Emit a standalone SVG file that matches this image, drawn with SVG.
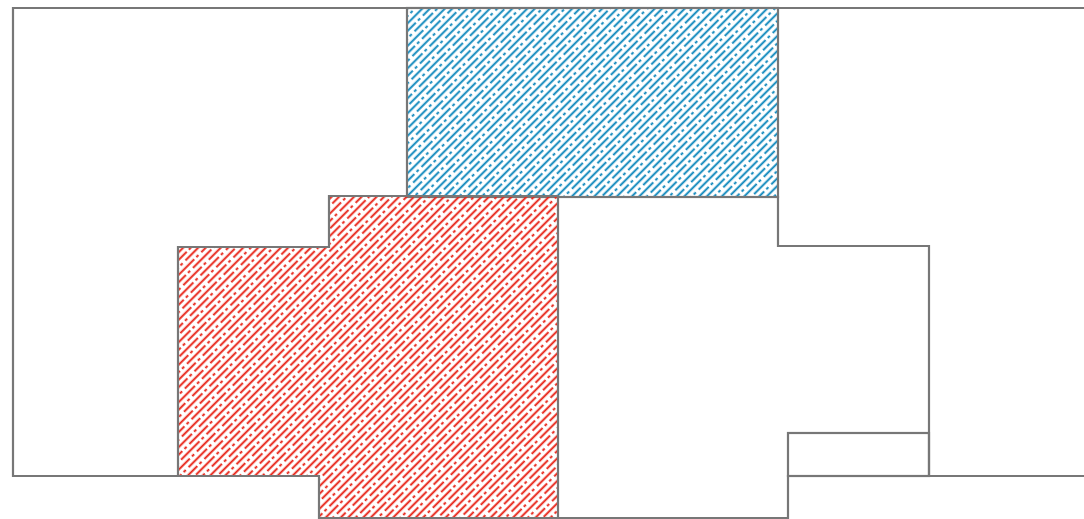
<svg xmlns="http://www.w3.org/2000/svg" width="1084" height="519" viewBox="0 0 1084 519">
<style>
.wall{fill:none;stroke:#777;stroke-width:2.2;stroke-linejoin:miter}
.hb{stroke:#1189bd;stroke-width:2}
.hr{stroke:#e8261a;stroke-width:2}
</style>
<defs>
<pattern id="hatchBlue" patternUnits="userSpaceOnUse" width="36" height="10.6" patternTransform="rotate(-45)">
<line class="hb" x1="0" y1="2.65" x2="36" y2="2.65" stroke-dasharray="26 3 3 4"/>
<line class="hb" x1="0" y1="7.95" x2="36" y2="7.95" stroke-dasharray="26 3 3 4" stroke-dashoffset="17"/>
</pattern>
<pattern id="hatchRed" patternUnits="userSpaceOnUse" width="36" height="10.6" patternTransform="rotate(-45)">
<line class="hr" x1="0" y1="2.65" x2="36" y2="2.65" stroke-dasharray="26 3 3 4"/>
<line class="hr" x1="0" y1="7.95" x2="36" y2="7.95" stroke-dasharray="26 3 3 4" stroke-dashoffset="17"/>
</pattern>
</defs>
<rect width="1084" height="519" fill="#fff"/>
<g id="room-left">
<path class="wall" d="M407,8 L13,8 L13,476 L178,476"/>
</g>
<g id="room-blue">
<rect x="407" y="8" width="371" height="189" fill="url(#hatchBlue)"/>
<rect class="wall" x="407" y="8" width="371" height="189"/>
</g>
<g id="room-red">
<path d="M178,247 L329,247 L329,196 L558,196 L558,518 L319,518 L319,476 L178,476 Z" fill="url(#hatchRed)"/>
<path class="wall" d="M178,247 L329,247 L329,196 L558,196 L558,518 L319,518 L319,476 L178,476 Z"/>
</g>
<g id="room-middle">
<path class="wall" d="M558,197 L778,197 L778,246 L929,246 L929,476 L788,476 L788,518 L558,518"/>
</g>
<g id="room-small">
<rect class="wall" x="788" y="433" width="141" height="43"/>
</g>
<g id="room-right">
<path class="wall" d="M778,8 L1084,8 M929,476 L1084,476"/>
</g>
</svg>
